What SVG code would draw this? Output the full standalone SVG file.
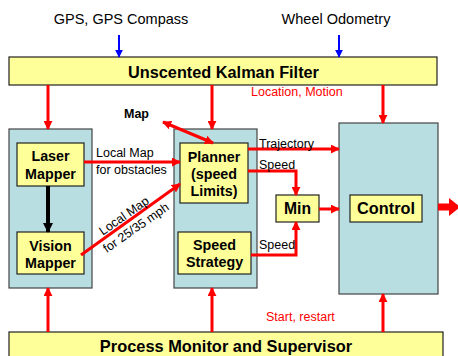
<svg xmlns="http://www.w3.org/2000/svg" width="458" height="356" viewBox="0 0 458 356">
<defs>
<marker id="ar" viewBox="0 0 10 10" refX="9" refY="5" markerWidth="9" markerHeight="9" markerUnits="userSpaceOnUse" orient="auto-start-reverse"><path d="M0,0 L10,5 L0,10 z" fill="#ff0000"/></marker>
<marker id="ab" viewBox="0 0 10 10" refX="9" refY="5" markerWidth="8" markerHeight="8" markerUnits="userSpaceOnUse" orient="auto"><path d="M0,0 L10,5 L0,10 z" fill="#0000ff"/></marker>
<marker id="ak" viewBox="0 0 10 10" refX="9" refY="5" markerWidth="10" markerHeight="10" markerUnits="userSpaceOnUse" orient="auto"><path d="M0,0 L10,5 L0,10 z" fill="#000"/></marker>
</defs>
<style>
text{font-family:"Liberation Sans",Arial,sans-serif;}
.y{fill:#ffff99;stroke:#222;stroke-width:1.2;}
.c{fill:#b8dee1;stroke:#444;stroke-width:1.2;}
.b{font-weight:bold;font-size:14.3px;text-anchor:middle;fill:#000;}
.t{font-size:12.5px;fill:#000;}
.r{stroke:#ff0000;stroke-width:3;fill:none;}
.rl{font-size:12.5px;fill:#ff0000;}
</style>
<rect width="458" height="356" fill="#fff"/>
<text x="121" y="24" style="font-size:14.5px;text-anchor:middle">GPS, GPS Compass</text>
<text x="336" y="24" style="font-size:14.5px;text-anchor:middle">Wheel Odometry</text>
<g id="ukf"><rect class="y" x="9" y="57" width="428" height="28"/><text x="223.5" y="78" style="font-weight:bold;font-size:16.3px;text-anchor:middle">Unscented Kalman Filter</text></g>
<g id="left"><rect class="c" x="9" y="129" width="83" height="159"/></g>
<g id="middle"><rect class="c" x="174" y="129" width="83" height="159"/></g>
<g id="right"><rect class="c" x="339" y="123" width="99" height="171"/></g>
<g id="laser"><rect class="y" x="17" y="143" width="67" height="43"/><text class="b" x="50.5" y="161">Laser</text><text class="b" x="50.5" y="178.5">Mapper</text></g>
<g id="vision"><rect class="y" x="17" y="232" width="67" height="42"/><text class="b" x="50.5" y="250.5">Vision</text><text class="b" x="50.5" y="268">Mapper</text></g>
<g id="planner"><rect class="y" x="180" y="143" width="68" height="60"/><text class="b" x="214" y="161.5">Planner</text><text class="b" x="214" y="178.5">(speed</text><text class="b" x="214" y="195.5">Limits)</text></g>
<g id="speedstrategy"><rect class="y" x="178" y="232" width="73" height="42"/><text class="b" x="214.5" y="250">Speed</text><text class="b" x="214.5" y="267">Strategy</text></g>
<g id="min"><rect class="y" x="276" y="195" width="43" height="27"/><text x="297.5" y="214" style="font-weight:bold;font-size:15.7px;text-anchor:middle">Min</text></g>
<g id="control"><rect class="y" x="350" y="195" width="72" height="27"/><text x="386" y="214" style="font-weight:bold;font-size:16.3px;text-anchor:middle">Control</text></g>
<g id="pms"><rect class="y" x="9" y="332" width="434" height="30"/><text x="226" y="352" style="font-weight:bold;font-size:16.4px;text-anchor:middle">Process Monitor and Supervisor</text></g>
<g id="connectors">
<line x1="119" y1="35" x2="119" y2="57" stroke="#0000ff" stroke-width="2" marker-end="url(#ab)"/>
<line x1="339" y1="35" x2="339" y2="57" stroke="#0000ff" stroke-width="2" marker-end="url(#ab)"/>
<line class="r" x1="48" y1="85" x2="48" y2="129" marker-end="url(#ar)"/>
<line class="r" x1="212" y1="85" x2="212" y2="129" marker-end="url(#ar)"/>
<line class="r" x1="383" y1="85" x2="383" y2="123" marker-end="url(#ar)"/>
<line class="r" x1="48" y1="332" x2="48" y2="288" marker-end="url(#ar)"/>
<line class="r" x1="212" y1="332" x2="212" y2="288" marker-end="url(#ar)"/>
<line class="r" x1="383" y1="332" x2="383" y2="294" marker-end="url(#ar)"/>
<line x1="48" y1="186" x2="48" y2="232" stroke="#000" stroke-width="4" marker-end="url(#ak)"/>
<line class="r" x1="84" y1="162" x2="180" y2="162" marker-end="url(#ar)"/>
<line class="r" x1="81" y1="255" x2="180" y2="184" marker-end="url(#ar)"/>
<line class="r" x1="163" y1="122" x2="213" y2="143" marker-start="url(#ar)" marker-end="url(#ar)"/>
<line class="r" x1="248" y1="149" x2="339" y2="149" marker-end="url(#ar)"/>
<polyline class="r" points="248,171 296,171 296,195" marker-end="url(#ar)"/>
<polyline class="r" points="251,255 296,255 296,222" marker-end="url(#ar)"/>
<line class="r" x1="319" y1="209" x2="339" y2="209" marker-end="url(#ar)"/>
<path d="M438,203.5 L449,203.5 L449,198 L460,207 L449,216 L449,210.5 L438,210.5 z" fill="#ff0000"/>
</g>
<text class="rl" x="251" y="96">Location, Motion</text>
<text class="rl" x="266" y="321">Start, restart</text>
<text x="124" y="118" style="font-weight:bold;font-size:12.5px">Map</text>
<text class="t" x="96" y="157">Local Map</text>
<text class="t" x="96" y="174">for obstacles</text>
<text class="t" x="259" y="148">Trajectory</text>
<text class="t" x="259" y="169">Speed</text>
<text class="t" x="259" y="248.5">Speed</text>
<g transform="translate(130,221) rotate(-35)">
<text class="t" x="-2" y="-3.5" style="text-anchor:middle">Local Map</text>
<text class="t" x="1" y="13" style="text-anchor:middle">for 25/35 mph</text>
</g>
</svg>
